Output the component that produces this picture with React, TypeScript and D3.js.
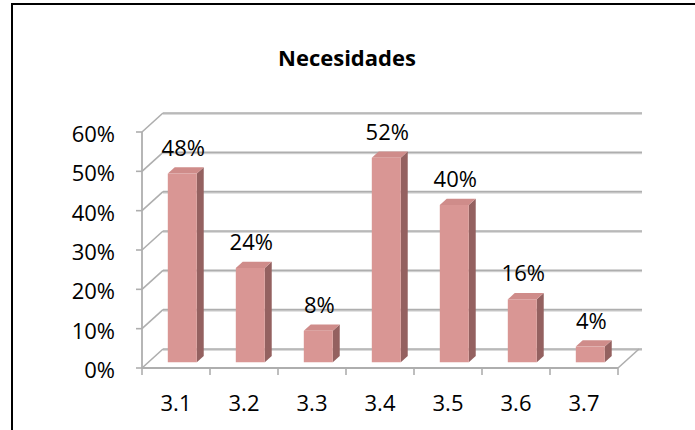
import React from "react";
import * as d3 from "d3";

// Chart data
const categories: string[] = ["3.1", "3.2", "3.3", "3.4", "3.5", "3.6", "3.7"];
const values: number[] = [0.48, 0.24, 0.08, 0.52, 0.4, 0.16, 0.04];
const yTicks: number[] = [0, 0.1, 0.2, 0.3, 0.4, 0.5, 0.6];
const title = "Necesidades";

const W = 695;
const H = 430;
const FONT = "'Open Sans', 'Noto Sans', sans-serif";

// Plot frame (front plane) and 3D depth offset
const X0 = 142;
const X1 = 618;
const Y0 = 368;
const Y1 = 132;
const DX = 21;
const DY = -19;
const Z_FRONT = 0.3;
const Z_BACK = 0.63;
const BAR_W = 29;

const GRID = "#AEAEAE";
const FACE = "#D99694";
const SIDE = "#946160";
const TOP = "#CF8C8A";

export default function App() {
  const x = d3.scaleBand<string>().domain(categories).range([X0, X1]).padding(0);
  const y = d3.scaleLinear().domain([0, 0.6]).range([Y0, Y1]);
  const fmt = d3.format(".0%");

  const proj = (px: number, py: number, z: number): [number, number] => [px + z * DX, py + z * DY];
  const pts = (arr: [number, number][]) => arr.map((p) => p.join(",")).join(" ");

  return (
    <svg
      width={W}
      height={H}
      style={{ position: "absolute", left: 0, top: 0, background: "#fff" }}
      fontFamily={FONT}
    >
      <rect x={12} y={4} width={W + 20} height={H + 20} fill="#fff" stroke="#000" strokeWidth={2} />

      <text x={347} y={66} textAnchor="middle" fontWeight="bold" fontSize={22} fill="#000">
        {title}
      </text>

      {/* back wall gridlines and left wall diagonals */}
      {yTicks.map((t) => {
        const yy = y(t);
        return (
          <g key={"g" + t}>
            <line x1={X0 + DX} y1={yy + DY + 1} x2={X1 + DX + 3} y2={yy + DY + 1} stroke="#DADADA" strokeWidth={2} />
            <line x1={X0 + DX} y1={yy + DY} x2={X1 + DX + 3} y2={yy + DY} stroke={GRID} strokeWidth={1.6} />
            <line x1={X0} y1={yy} x2={X0 + DX} y2={yy + DY} stroke={GRID} strokeWidth={1.6} />
            <line x1={X0 - 6} y1={yy} x2={X0} y2={yy} stroke={GRID} strokeWidth={1.6} />
            <text x={115} y={yy + 10} textAnchor="end" fontSize={22} fill="#000">
              {fmt(t)}
            </text>
          </g>
        );
      })}

      {/* floor */}
      <line x1={X0} y1={Y0} x2={X1} y2={Y0} stroke={GRID} strokeWidth={1.8} />
      <line x1={X1} y1={Y0} x2={X1 + DX} y2={Y0 + DY} stroke={GRID} strokeWidth={1.6} />
      <line x1={X0} y1={Y0} x2={X0} y2={Y1} stroke={GRID} strokeWidth={1.8} />

      {/* category ticks */}
      {[...categories.map((c) => x(c) as number), X1].map((tx, i) => (
        <line key={"t" + i} x1={tx} y1={Y0} x2={tx} y2={Y0 + 7} stroke={GRID} strokeWidth={1.6} />
      ))}

      {/* bars */}
      {categories.map((c, i) => {
        const v = values[i];
        const cx = (x(c) as number) + x.bandwidth() / 2;
        const xl = cx - BAR_W / 2;
        const xr = cx + BAR_W / 2;
        const yt = y(v);
        const yb = y(0);
        const front: [number, number][] = [
          proj(xl, yt, Z_FRONT),
          proj(xr, yt, Z_FRONT),
          proj(xr, yb, Z_FRONT),
          proj(xl, yb, Z_FRONT),
        ];
        const side: [number, number][] = [
          proj(xr, yt, Z_FRONT),
          proj(xr, yt, Z_BACK),
          proj(xr, yb, Z_BACK),
          proj(xr, yb, Z_FRONT),
        ];
        const top: [number, number][] = [
          proj(xl, yt, Z_FRONT),
          proj(xr, yt, Z_FRONT),
          proj(xr, yt, Z_BACK),
          proj(xl, yt, Z_BACK),
        ];
        const [lx, ly] = proj(cx, yt, Z_FRONT);
        return (
          <g key={c}>
            <polygon points={pts(side)} fill={SIDE} />
            <polygon points={pts(top)} fill={TOP} />
            <polygon points={pts(front)} fill={FACE} />
            <text x={lx + 1} y={ly - 18} textAnchor="middle" fontSize={22} fill="#000">
              {fmt(v)}
            </text>
          </g>
        );
      })}

      {/* category labels */}
      {categories.map((c) => (
        <text
          key={"l" + c}
          x={(x(c) as number) + x.bandwidth() / 2}
          y={411}
          textAnchor="middle"
          fontSize={22}
          fill="#000"
        >
          {c}
        </text>
      ))}
    </svg>
  );
}
